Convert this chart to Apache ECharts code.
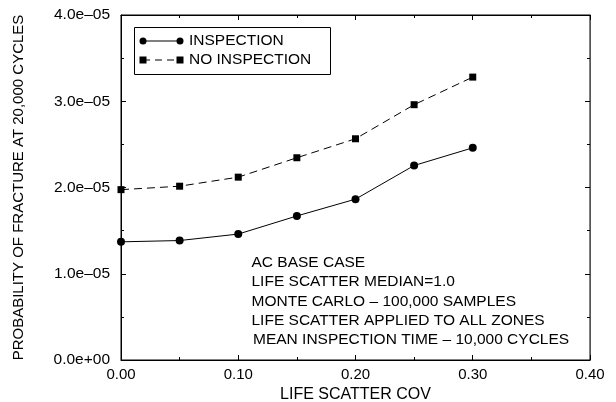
<!DOCTYPE html>
<html>
<head>
<meta charset="utf-8">
<script src="https://cdn.jsdelivr.net/npm/echarts@6/dist/echarts.min.js"></script>
<style>
  html, body { margin: 0; padding: 0; background: #fff; }
  #chart { width: 616px; height: 402px; }
</style>
</head>
<body>
<div id="chart"></div>
<script>
// Life scatter coefficient of variation (x) and fracture probability at 20,000 cycles
const cov = [0.00, 0.05, 0.10, 0.15, 0.20, 0.25, 0.30];
const inspection = [1.37e-5, 1.385e-5, 1.46e-5, 1.67e-5, 1.865e-5, 2.255e-5, 2.46e-5];
const noInspection = [1.975e-5, 2.015e-5, 2.12e-5, 2.345e-5, 2.565e-5, 2.96e-5, 3.28e-5];

const seriesNames = ['INSPECTION', 'NO INSPECTION'];
const notes = [
  'AC BASE CASE',
  'LIFE SCATTER MEDIAN=1.0',
  'MONTE CARLO \u2013 100,000 SAMPLES',
  'LIFE SCATTER APPLIED TO ALL ZONES',
  'MEAN INSPECTION TIME \u2013 10,000 CYCLES'
];

const FONT = 'Liberation Sans, Arial, Helvetica, sans-serif';

function sciLabel(v) {
  if (v === 0) return '0.0e+00';
  const exp = Math.floor(Math.log10(Math.abs(v)) + 1e-9);
  const mant = v / Math.pow(10, exp);
  const sign = exp < 0 ? '\u2013' : '+';
  const e = String(Math.abs(exp)).padStart(2, '0');
  return mant.toFixed(1) + 'e' + sign + e;
}

const pair = (xs, ys) => xs.map((x, i) => [x, ys[i]]);

// Fresh style objects for each axis (inward ticks, half-step minor ticks)
function axisStyle(gridIndex, lineColor) {
  return {
    gridIndex: gridIndex,
    axisLine: { show: true, onZero: false, lineStyle: { color: lineColor, width: 1 } },
    axisTick: { show: true, inside: true, length: 5, lineStyle: { color: '#000', width: 1 } },
    minorTick: { show: true, splitNumber: 2, length: 3, lineStyle: { color: '#000', width: 1 } },
    splitLine: { show: false }
  };
}

// Legend entries: a short line with a marker at each end
const legendItems = [];
const legendRows = [41, 60];
seriesNames.forEach((name, i) => {
  const y = legendRows[i];
  const lineStyle = { stroke: '#000', lineWidth: 1 };
  if (i === 1) lineStyle.lineDash = [7, 5];
  legendItems.push({ type: 'line', z: 11, shape: { x1: 143, y1: y, x2: 180, y2: y }, style: lineStyle });
  [143, 180].forEach(x => {
    if (i === 0) {
      legendItems.push({ type: 'circle', z: 11, shape: { cx: x, cy: y, r: 3.5 }, style: { fill: '#000' } });
    } else {
      legendItems.push({ type: 'rect', z: 11, shape: { x: x - 3.5, y: y - 3.5, width: 7, height: 7 }, style: { fill: '#000' } });
    }
  });
  legendItems.push({
    type: 'text', z: 11, x: 189, y: y,
    style: { text: name, font: '15.5px ' + FONT, fill: '#000', verticalAlign: 'middle' }
  });
});

const noteItems = notes.map((t, i) => ({
  type: 'text', z: 11, x: i === 4 ? 253 : 251.5, y: 263 + i * 19.2,
  style: { text: t, font: '15.5px ' + FONT, fill: '#000', verticalAlign: 'middle' }
}));

const chart = echarts.init(document.getElementById('chart'));

const plotRect = { left: 121, right: 26, top: 15, bottom: 42, outerBoundsMode: 'none' };

chart.setOption({
  animation: false,
  // grid 0 carries the data and the labelled axes; grid 1 (same box) carries the top/right frame axes
  grid: [
    Object.assign({ show: true, borderColor: '#000', borderWidth: 1, backgroundColor: 'transparent' }, plotRect),
    Object.assign({ show: false }, plotRect)
  ],
  xAxis: [
    Object.assign({
      type: 'value', min: 0, max: 0.4, interval: 0.1, position: 'bottom',
      name: 'LIFE SCATTER COV', nameLocation: 'middle', nameGap: 25,
      nameTextStyle: { fontSize: 16, color: '#000', fontFamily: FONT },
      axisLabel: { fontSize: 15, color: '#000', margin: 7, fontFamily: FONT, formatter: v => v.toFixed(2) }
    }, axisStyle(0, '#000')),
    Object.assign({
      type: 'value', min: 0, max: 0.4, interval: 0.1, position: 'top',
      axisLabel: { show: false }
    }, axisStyle(1, '#000'))
  ],
  yAxis: [
    Object.assign({
      type: 'value', min: 0, max: 4e-5, interval: 1e-5, position: 'left',
      name: 'PROBABILITY OF FRACTURE AT 20,000 CYCLES', nameLocation: 'middle', nameGap: 95,
      nameTextStyle: { fontSize: 15, color: '#000', fontFamily: FONT },
      axisLabel: { fontSize: 15.5, color: '#000', margin: 11, fontFamily: FONT, formatter: sciLabel }
    }, axisStyle(0, '#000')),
    Object.assign({
      type: 'value', min: 0, max: 4e-5, interval: 1e-5, position: 'right',
      axisLabel: { show: false }
    }, axisStyle(1, '#555'))
  ],
  series: [
    {
      name: seriesNames[0], type: 'line', data: pair(cov, inspection),
      xAxisIndex: 0, yAxisIndex: 0,
      symbol: 'circle', symbolSize: 8,
      itemStyle: { color: '#000' },
      lineStyle: { color: '#000', width: 1 }
    },
    {
      name: seriesNames[1], type: 'line', data: pair(cov, noInspection),
      xAxisIndex: 0, yAxisIndex: 0,
      symbol: 'rect', symbolSize: 7,
      itemStyle: { color: '#000' },
      lineStyle: { color: '#000', width: 1, type: [8, 5] }
    }
  ],
  graphic: [
    {
      type: 'rect', z: 10, shape: { x: 134.5, y: 27.5, width: 196, height: 47 },
      style: { fill: '#fff', stroke: '#000', lineWidth: 1 }
    }
  ].concat(legendItems).concat(noteItems)
});
</script>
</body>
</html>
